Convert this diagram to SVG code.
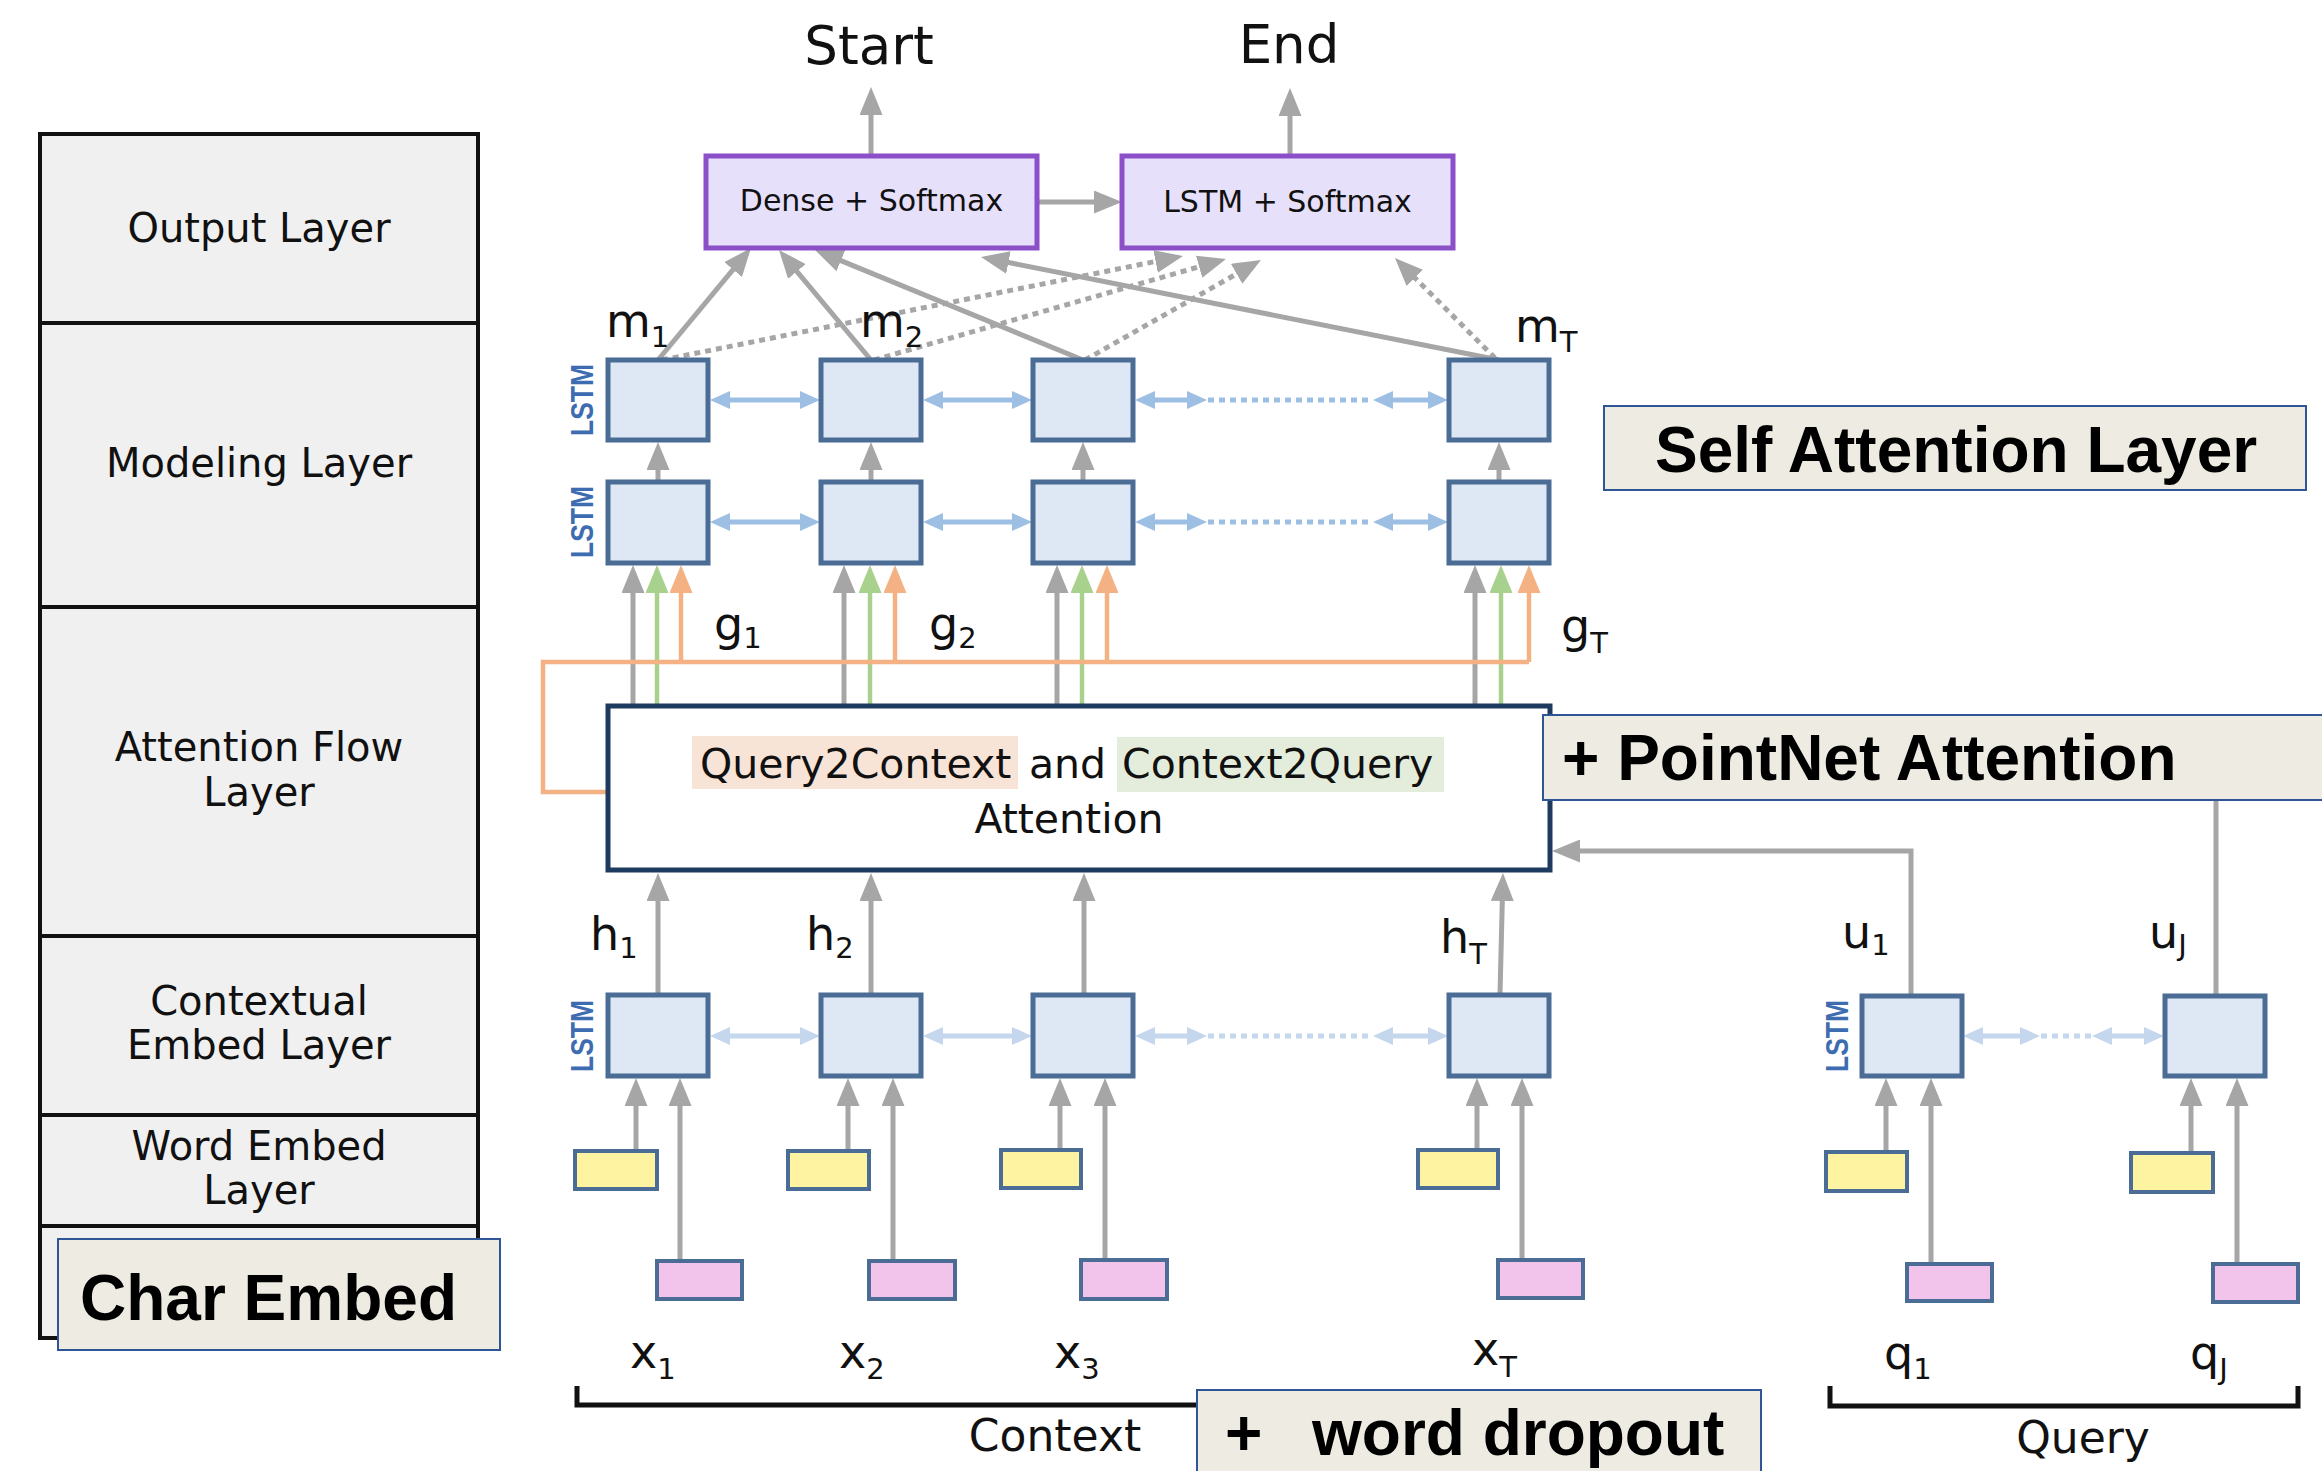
<svg xmlns="http://www.w3.org/2000/svg" width="2322" height="1471" viewBox="0 0 2322 1471">
<defs>
<style>
.lstm{fill:#DEE8F4;stroke:#4A6C95;stroke-width:5}
.yel{fill:#FEF3A0;stroke:#4A6C95;stroke-width:4}
.pnk{fill:#F2C4EC;stroke:#4A6C95;stroke-width:4}
.out{fill:#E6E0FA;stroke:#8B4FC8;stroke-width:5}
.ann{fill:#EEECE2;stroke:#2F5597;stroke-width:2}
.g{stroke:#A6A6A6;stroke-width:5;fill:none;marker-end:url(#ag)}
.gd{stroke:#A6A6A6;stroke-width:5;fill:none;stroke-dasharray:6 5;marker-end:url(#ag)}
.gl{stroke:#A6A6A6;stroke-width:5;fill:none}
.grn{stroke:#A9D18E;stroke-width:4.5;fill:none;marker-end:url(#agn)}
.org{stroke:#F4B183;stroke-width:4.5;fill:none;marker-end:url(#aor)}
.orl{stroke:#F4B183;stroke-width:4.5;fill:none}
.b1{stroke:#9DBFE4;stroke-width:5;marker-start:url(#ab1);marker-end:url(#ab1)}
.b1d{stroke:#9DBFE4;stroke-width:5;stroke-dasharray:6 5}
.b2{stroke:#C4D7EC;stroke-width:5;marker-start:url(#ab2);marker-end:url(#ab2)}
.b2d{stroke:#C4D7EC;stroke-width:5;stroke-dasharray:6 5}
.brk{stroke:#111;stroke-width:5;fill:none}
.lay{font-family:"DejaVu Sans",sans-serif;font-size:40px;fill:#111;text-anchor:middle}
.av{font-family:"DejaVu Sans",sans-serif;fill:#111}
.lbl{font-family:"DejaVu Sans",sans-serif;font-size:46px;fill:#111}
.sub{font-size:29px}
.lt{font-family:"Liberation Sans",Arial,sans-serif;font-weight:bold;font-size:32px;fill:#3D6DB0;text-anchor:middle}
.bold{font-family:"Liberation Sans",Arial,sans-serif;font-weight:bold;font-size:64px;fill:#000}
</style>
<marker id="ag" markerUnits="userSpaceOnUse" markerWidth="28" markerHeight="23" refX="8" refY="11.5" orient="auto"><path d="M0,0 L28,11.5 L0,23 Z" fill="#A6A6A6"/></marker>
<marker id="agn" markerUnits="userSpaceOnUse" markerWidth="28" markerHeight="23" refX="8" refY="11.5" orient="auto"><path d="M0,0 L28,11.5 L0,23 Z" fill="#A9D18E"/></marker>
<marker id="aor" markerUnits="userSpaceOnUse" markerWidth="28" markerHeight="23" refX="8" refY="11.5" orient="auto"><path d="M0,0 L28,11.5 L0,23 Z" fill="#F4B183"/></marker>
<marker id="ab1" markerUnits="userSpaceOnUse" markerWidth="20" markerHeight="18" refX="6" refY="9" orient="auto-start-reverse"><path d="M0,0 L20,9 L0,18 Z" fill="#9DBFE4"/></marker>
<marker id="ab2" markerUnits="userSpaceOnUse" markerWidth="20" markerHeight="18" refX="6" refY="9" orient="auto-start-reverse"><path d="M0,0 L20,9 L0,18 Z" fill="#C4D7EC"/></marker>
</defs>
<rect width="2322" height="1471" fill="#FFFFFF"/>

<g id="layer-panel">
<rect x="40" y="134" width="438" height="1204" fill="#F0F0F0" stroke="#111" stroke-width="4"/>
<g stroke="#111" stroke-width="4">
<line x1="40" y1="323" x2="478" y2="323"/>
<line x1="40" y1="607" x2="478" y2="607"/>
<line x1="40" y1="936" x2="478" y2="936"/>
<line x1="40" y1="1115" x2="478" y2="1115"/>
<line x1="40" y1="1226" x2="478" y2="1226"/>
</g>
<text class="lay" x="259" y="242">Output Layer</text>
<text class="lay" x="259" y="477">Modeling Layer</text>
<text class="lay" x="259" y="761">Attention Flow</text>
<text class="lay" x="259" y="806">Layer</text>
<text class="lay" x="259" y="1015">Contextual</text>
<text class="lay" x="259" y="1059">Embed Layer</text>
<text class="lay" x="259" y="1160">Word Embed</text>
<text class="lay" x="259" y="1204">Layer</text>
</g>

<g id="connectors">
<line class="g" x1="871" y1="156" x2="871" y2="107"/>
<line class="g" x1="1290" y1="156" x2="1290" y2="108"/>
<line class="g" x1="1037" y1="202" x2="1102" y2="202"/>
<line class="g" x1="658" y1="360" x2="738.2" y2="263.4"/>
<line class="g" x1="871" y1="360" x2="791.8" y2="265.3"/>
<line class="g" x1="1083" y1="360" x2="833.5" y2="257.6"/>
<line class="g" x1="1499" y1="360" x2="1000.6" y2="260.9"/>
<line class="gd" x1="662" y1="360" x2="1163.4" y2="259.9"/>
<line class="gd" x1="874" y1="360" x2="1206.8" y2="264.5"/>
<line class="gd" x1="1085" y1="360" x2="1243.6" y2="269.9"/>
<line class="gd" x1="1495" y1="358" x2="1409.1" y2="272.1"/>
<line class="b1" x1="724" y1="400" x2="806" y2="400"/>
<line class="b1" x1="937" y1="400" x2="1018" y2="400"/>
<line class="b1" x1="1149" y1="400" x2="1193" y2="400"/>
<line class="b1d" x1="1208" y1="400" x2="1372" y2="400"/>
<line class="b1" x1="1387" y1="400" x2="1434" y2="400"/>
<line class="b1" x1="724" y1="522" x2="806" y2="522"/>
<line class="b1" x1="937" y1="522" x2="1018" y2="522"/>
<line class="b1" x1="1149" y1="522" x2="1193" y2="522"/>
<line class="b1d" x1="1208" y1="522" x2="1372" y2="522"/>
<line class="b1" x1="1387" y1="522" x2="1434" y2="522"/>
<line class="g" x1="658" y1="482" x2="658" y2="462"/>
<line class="g" x1="871" y1="482" x2="871" y2="462"/>
<line class="g" x1="1083" y1="482" x2="1083" y2="462"/>
<line class="g" x1="1499" y1="482" x2="1499" y2="462"/>
<line class="g" x1="633" y1="706" x2="633" y2="585"/>
<line class="g" x1="844" y1="706" x2="844" y2="585"/>
<line class="g" x1="1057" y1="706" x2="1057" y2="585"/>
<line class="g" x1="1475" y1="706" x2="1475" y2="585"/>
<line class="grn" x1="657" y1="706" x2="657" y2="585"/>
<line class="grn" x1="870" y1="706" x2="870" y2="585"/>
<line class="grn" x1="1082" y1="706" x2="1082" y2="585"/>
<line class="grn" x1="1501" y1="706" x2="1501" y2="585"/>
<path class="orl" d="M608,792 H543 V662 H1529"/>
<line class="org" x1="681" y1="662" x2="681" y2="585"/>
<line class="org" x1="895" y1="662" x2="895" y2="585"/>
<line class="org" x1="1107" y1="662" x2="1107" y2="585"/>
<path class="org" d="M1529,662 V585"/>
<line class="g" x1="658" y1="994" x2="658" y2="893"/>
<line class="g" x1="871" y1="994" x2="871" y2="893"/>
<line class="g" x1="1084" y1="994" x2="1084" y2="893"/>
<line class="g" x1="1500" y1="994" x2="1502.5" y2="893"/>
<path class="g" d="M1911,996 V851 H1572"/>
<line class="gl" x1="2216" y1="996" x2="2216" y2="800"/>
<line class="b2" x1="724" y1="1036" x2="806" y2="1036"/>
<line class="b2" x1="937" y1="1036" x2="1018" y2="1036"/>
<line class="b2" x1="1149" y1="1036" x2="1193" y2="1036"/>
<line class="b2d" x1="1208" y1="1036" x2="1372" y2="1036"/>
<line class="b2" x1="1387" y1="1036" x2="1434" y2="1036"/>
<line class="b2" x1="1977" y1="1036" x2="2026" y2="1036"/>
<line class="b2d" x1="2041" y1="1036" x2="2091" y2="1036"/>
<line class="b2" x1="2106" y1="1036" x2="2150" y2="1036"/>
<line class="g" x1="636" y1="1151" x2="636" y2="1098"/>
<line class="g" x1="848" y1="1151" x2="848" y2="1098"/>
<line class="g" x1="1060" y1="1150" x2="1060" y2="1098"/>
<line class="g" x1="1477" y1="1150" x2="1477" y2="1098"/>
<line class="g" x1="1886" y1="1152" x2="1886" y2="1098"/>
<line class="g" x1="2191" y1="1153" x2="2191" y2="1098"/>
<line class="g" x1="680" y1="1261" x2="680" y2="1098"/>
<line class="g" x1="893" y1="1261" x2="893" y2="1098"/>
<line class="g" x1="1105" y1="1260" x2="1105" y2="1098"/>
<line class="g" x1="1522" y1="1260" x2="1522" y2="1098"/>
<line class="g" x1="1931" y1="1264" x2="1931" y2="1098"/>
<line class="g" x1="2237" y1="1264" x2="2237" y2="1098"/>
<path class="brk" d="M577,1386 V1405 H1600"/>
<path class="brk" d="M1830,1386 V1406 H2298 V1386"/>
</g>

<g id="start-label"><text class="av" x="869" y="64" font-size="53" text-anchor="middle">Start</text></g>
<g id="end-label"><text class="av" x="1289" y="63" font-size="53" text-anchor="middle">End</text></g>

<g id="dense-softmax">
<rect class="out" x="706" y="156" width="331" height="92"/>
<text class="av" x="871.5" y="211" font-size="30" text-anchor="middle">Dense + Softmax</text>
</g>
<g id="lstm-softmax">
<rect class="out" x="1122" y="156" width="331" height="92"/>
<text class="av" x="1287.5" y="212" font-size="30" text-anchor="middle">LSTM + Softmax</text>
</g>

<g id="modeling-row1">
<rect class="lstm" x="608" y="360" width="100" height="80"/>
<rect class="lstm" x="821" y="360" width="100" height="80"/>
<rect class="lstm" x="1033" y="360" width="100" height="80"/>
<rect class="lstm" x="1449" y="360" width="100" height="80"/>
<text class="lt" transform="translate(593,400) rotate(-90)" textLength="72" lengthAdjust="spacingAndGlyphs">LSTM</text>
</g>
<g id="modeling-row2">
<rect class="lstm" x="608" y="482" width="100" height="81"/>
<rect class="lstm" x="821" y="482" width="100" height="81"/>
<rect class="lstm" x="1033" y="482" width="100" height="81"/>
<rect class="lstm" x="1449" y="482" width="100" height="81"/>
<text class="lt" transform="translate(593,522) rotate(-90)" textLength="72" lengthAdjust="spacingAndGlyphs">LSTM</text>
</g>

<g id="m-labels">
<text class="lbl" x="606" y="337">m<tspan class="sub" dy="10">1</tspan></text>
<text class="lbl" x="860" y="337">m<tspan class="sub" dy="10">2</tspan></text>
<text class="lbl" x="1515" y="342">m<tspan class="sub" dy="10">T</tspan></text>
</g>

<g id="g-labels">
<text class="lbl" x="714" y="640">g<tspan class="sub" dy="8">1</tspan></text>
<text class="lbl" x="929" y="640">g<tspan class="sub" dy="8">2</tspan></text>
<text class="lbl" x="1561" y="642">g<tspan class="sub" dy="11">T</tspan></text>
</g>

<g id="attention">
<rect x="608" y="706" width="942" height="164" fill="#FFFFFF" stroke="#1F3A5F" stroke-width="5"/>
<rect x="692" y="736" width="326" height="53" fill="#F8E3D7"/>
<rect x="1117" y="737" width="327" height="55" fill="#E4EDDB"/>
<text class="av" x="700" y="778" font-size="41">Query2Context</text>
<text class="av" x="1029" y="778" font-size="41">and</text>
<text class="av" x="1122" y="778" font-size="41">Context2Query</text>
<text class="av" x="1069" y="833" font-size="41" text-anchor="middle">Attention</text>
</g>

<g id="h-labels">
<text class="lbl" x="590" y="950">h<tspan class="sub" dy="8">1</tspan></text>
<text class="lbl" x="806" y="950">h<tspan class="sub" dy="8">2</tspan></text>
<text class="lbl" x="1440" y="953">h<tspan class="sub" dy="11">T</tspan></text>
<text class="lbl" x="1842" y="948">u<tspan class="sub" dy="7">1</tspan></text>
<text class="lbl" x="2149" y="948">u<tspan class="sub" dy="7">J</tspan></text>
</g>

<g id="contextual-row">
<rect class="lstm" x="608" y="995" width="100" height="81"/>
<rect class="lstm" x="821" y="995" width="100" height="81"/>
<rect class="lstm" x="1033" y="995" width="100" height="81"/>
<rect class="lstm" x="1449" y="995" width="100" height="81"/>
<text class="lt" transform="translate(593,1036) rotate(-90)" textLength="72" lengthAdjust="spacingAndGlyphs">LSTM</text>
</g>
<g id="query-row">
<rect class="lstm" x="1862" y="996" width="100" height="80"/>
<rect class="lstm" x="2165" y="996" width="100" height="80"/>
<text class="lt" transform="translate(1848,1036) rotate(-90)" textLength="72" lengthAdjust="spacingAndGlyphs">LSTM</text>
</g>

<g id="word-embed">
<rect class="yel" x="575" y="1151" width="82" height="38"/>
<rect class="yel" x="788" y="1151" width="81" height="38"/>
<rect class="yel" x="1001" y="1150" width="80" height="38"/>
<rect class="yel" x="1418" y="1150" width="80" height="38"/>
<rect class="yel" x="1826" y="1152" width="81" height="39"/>
<rect class="yel" x="2131" y="1153" width="82" height="39"/>
</g>
<g id="char-embed">
<rect class="pnk" x="657" y="1261" width="85" height="38"/>
<rect class="pnk" x="869" y="1261" width="86" height="38"/>
<rect class="pnk" x="1081" y="1260" width="86" height="39"/>
<rect class="pnk" x="1498" y="1260" width="85" height="38"/>
<rect class="pnk" x="1907" y="1264" width="85" height="37"/>
<rect class="pnk" x="2213" y="1264" width="85" height="38"/>
</g>

<g id="inputs">
<text class="lbl" x="630" y="1368">x<tspan class="sub" dy="11">1</tspan></text>
<text class="lbl" x="839" y="1368">x<tspan class="sub" dy="11">2</tspan></text>
<text class="lbl" x="1054" y="1368">x<tspan class="sub" dy="11">3</tspan></text>
<text class="lbl" x="1472" y="1365">x<tspan class="sub" dy="12">T</tspan></text>
<text class="lbl" x="1884" y="1369">q<tspan class="sub" dy="10">1</tspan></text>
<text class="lbl" x="2190" y="1369">q<tspan class="sub" dy="10">J</tspan></text>
<text class="av" x="1055" y="1451" font-size="44" text-anchor="middle">Context</text>
<text class="av" x="2083" y="1453" font-size="44" text-anchor="middle">Query</text>
</g>

<g id="self-attention-note">
<rect class="ann" x="1604" y="406" width="702" height="84"/>
<text class="bold" x="1655" y="472">Self Attention Layer</text>
</g>
<g id="pointnet-note">
<rect class="ann" x="1543" y="715" width="790" height="85"/>
<text class="bold" x="1562" y="780">+ PointNet Attention</text>
</g>
<g id="char-embed-note">
<rect class="ann" x="58" y="1239" width="442" height="111"/>
<text class="bold" x="80" y="1320" font-size="63">Char Embed</text>
</g>
<g id="word-dropout-note">
<rect class="ann" x="1197" y="1390" width="564" height="95"/>
<text class="bold" x="1225" y="1455">+</text>
<text class="bold" x="1312" y="1455">word dropout</text>
</g>
</svg>
